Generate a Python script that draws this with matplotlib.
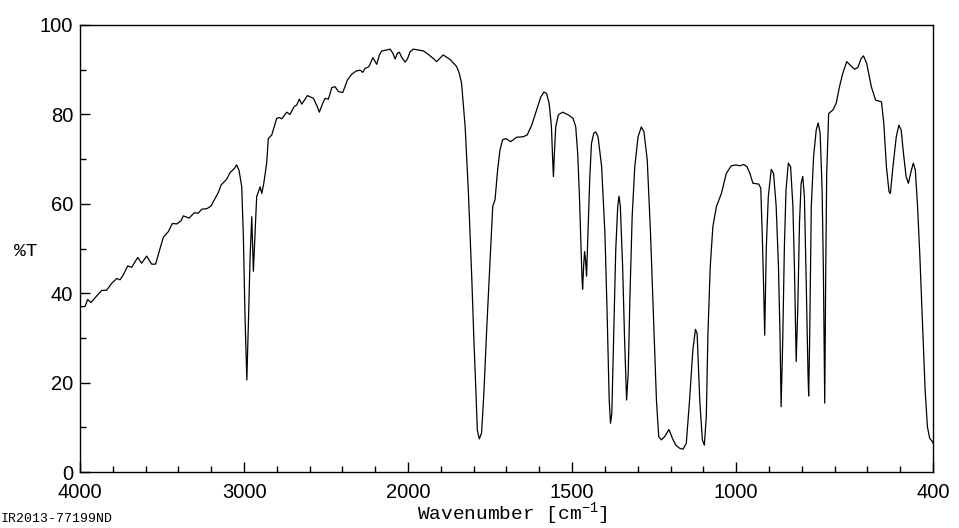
import numpy as np
import matplotlib
matplotlib.use("Agg")
import matplotlib.pyplot as plt

# wavenumber (cm-1) and transmittance (%T)
wavenumber = [
    4000, 3970, 3953, 3933, 3898, 3868, 3837, 3807, 3776, 3756, 3736, 3709, 3685,
    3648, 3624, 3594, 3563, 3539, 3512, 3492, 3461, 3437, 3410, 3384, 3370, 3335,
    3303, 3279, 3258, 3227, 3201, 3181, 3157, 3140, 3106, 3085, 3059, 3045, 3030,
    3014, 3004, 2994, 2983, 2974, 2963, 2953, 2943, 2933, 2923, 2902, 2892, 2880,
    2862, 2852, 2831, 2801, 2785, 2770, 2740, 2720, 2695, 2679, 2663, 2648, 2614,
    2577, 2553, 2541, 2520, 2506, 2486, 2465, 2445, 2425, 2398, 2370, 2343, 2317,
    2292, 2276, 2262, 2242, 2232, 2215, 2201, 2191, 2175, 2160, 2130, 2110, 2093,
    2079, 2065, 2053, 2038, 2018, 2004, 1994, 1984, 1969, 1953, 1938, 1923, 1913,
    1893, 1872, 1852, 1844, 1837, 1826, 1816, 1806, 1799, 1793, 1789, 1783, 1776,
    1769, 1760, 1750, 1742, 1735, 1727, 1720, 1712, 1702, 1687, 1669, 1649, 1637,
    1623, 1608, 1596, 1586, 1578, 1570, 1563, 1560, 1557, 1554, 1550, 1542, 1529,
    1512, 1497, 1489, 1483, 1478, 1474, 1470, 1468, 1465, 1462, 1459, 1456, 1451,
    1446, 1441, 1434, 1428, 1421, 1410, 1400, 1393, 1387, 1383, 1379, 1373, 1367,
    1361, 1357, 1353, 1346, 1340, 1334, 1329, 1324, 1317, 1309, 1299, 1289, 1281,
    1271, 1261, 1251, 1243, 1236, 1228, 1218, 1205, 1194, 1184, 1172, 1162, 1152,
    1142, 1132, 1124, 1119, 1111, 1103, 1097, 1091, 1086, 1079, 1071, 1060, 1045,
    1030, 1015, 1000, 989, 977, 967, 958, 949, 931, 925, 920, 916, 913, 908, 902,
    893, 886, 878, 871, 866, 863, 858, 853, 848, 841, 834, 827, 822, 817, 812,
    807, 802, 797, 792, 787, 781, 779, 776, 771, 764, 756, 750, 744, 738, 734,
    730, 727, 724, 718, 705, 695, 685, 675, 663, 652, 639, 629, 619, 612, 602,
    588, 575, 557, 550, 542, 534, 530, 522, 512, 504, 497, 490, 482, 475, 467,
    460, 454, 447, 440, 432, 424, 417, 410, 404, 400,
]
transmittance = [
    37.0, 37.0, 38.6, 37.9, 39.4, 40.6, 40.7, 42.2, 43.3, 43.0, 44.1, 46.1, 45.8,
    48.0, 46.7, 48.3, 46.5, 46.5, 50.0, 52.5, 53.8, 55.6, 55.5, 56.2, 57.3, 56.8,
    58.0, 57.9, 58.8, 58.9, 59.5, 60.9, 62.5, 64.2, 65.5, 67.0, 67.9, 68.7, 67.4,
    63.8, 52.6, 34.7, 20.6, 32.5, 48.2, 57.1, 44.9, 53.5, 61.6, 63.8, 62.3, 64.5,
    69.1, 74.6, 75.4, 79.1, 79.3, 79.0, 80.5, 80.0, 81.7, 82.1, 83.4, 82.3, 84.2,
    83.6, 81.7, 80.5, 82.5, 83.6, 83.4, 86.0, 86.2, 85.1, 84.9, 87.7, 89.0, 89.7,
    89.9, 89.4, 90.3, 90.6, 91.2, 92.7, 91.8, 91.2, 93.3, 94.2, 94.4, 94.6, 93.7,
    92.4, 93.7, 93.9, 92.7, 91.7, 92.4, 94.0, 94.6, 94.4, 94.2, 93.4, 92.5, 91.8,
    93.3, 92.3, 90.7, 89.2, 87.0, 77.2, 62.3, 43.7, 28.8, 17.6, 9.4, 7.4, 8.7,
    17.6, 32.5, 47.4, 59.4, 60.9, 67.6, 72.0, 74.3, 74.6, 73.9, 74.9, 75.0, 75.4,
    77.6, 81.0, 83.8, 85.0, 84.7, 82.5, 77.2, 71.3, 66.1, 71.3, 77.2, 79.9, 80.5,
    79.9, 79.1, 77.2, 71.3, 62.3, 52.6, 43.7, 40.9, 45.9, 49.3, 47.4, 43.8, 54.9,
    66.1, 73.5, 75.8, 76.1, 75.0, 68.3, 53.4, 34.7, 16.1, 10.9, 13.1, 31.0, 49.7,
    59.4, 61.7, 59.4, 45.9, 29.5, 16.1, 22.1, 38.5, 57.1, 68.3, 75.0, 77.2, 76.1,
    69.8, 53.4, 32.5, 16.1, 7.9, 7.2, 7.9, 9.5, 7.5, 6.0, 5.3, 5.1, 6.4,
    16.1, 27.3, 31.9, 31.0, 16.1, 7.2, 6.0, 12.4, 31.0, 45.9, 54.9, 59.4, 62.3,
    66.8, 68.5, 68.7, 68.5, 68.8, 68.3, 66.8, 64.6, 64.4, 63.5, 51.9, 40.7, 30.6, 50.4, 61.6,
    67.7, 66.8, 59.4, 45.9, 29.5, 14.6, 29.5, 50.4, 63.1, 69.1, 68.3, 59.4, 44.5, 24.7, 37.0,
    55.6, 64.6, 66.1, 61.6, 44.5, 22.1, 17.0, 29.5, 59.4, 70.5, 76.5, 78.1, 75.8, 63.1, 44.5,
    15.4, 44.5, 66.8, 80.2, 81.0, 82.5, 86.2, 89.2, 91.8, 91.0, 90.1, 90.5, 92.5, 93.1, 91.4,
    86.2, 83.2, 82.8, 78.0, 68.3, 62.7, 62.3, 68.3, 75.0, 77.6, 76.5, 71.3, 66.1, 64.6, 67.2,
    69.1, 67.6, 59.4, 48.2, 33.3, 18.3, 10.1, 7.5, 7.0, 6.5,
]

x_ticks = [4000, 3000, 2000, 1500, 1000, 400]
y_ticks = [0, 20, 40, 60, 80, 100]


# axis is compressed 2x above 2000 cm-1
def fwd(w):
    w = np.asarray(w, dtype=float)
    return np.where(w <= 2000, 2 * w, w + 2000)


def inv(u):
    u = np.asarray(u, dtype=float)
    return np.where(u <= 4000, u / 2, u - 2000)


plt.rcParams['mathtext.fontset'] = 'custom'
plt.rcParams['mathtext.rm'] = 'Liberation Mono'

fig = plt.figure(figsize=(9.59, 5.28), dpi=100)
ax = fig.add_axes([80 / 959, 56 / 528, 853 / 959, 447 / 528])
ax.set_xscale('function', functions=(fwd, inv))
ax.plot(wavenumber, transmittance, color='black', lw=0.9)
ax.set_xlim(4000, 400)
ax.set_ylim(0, 100)

minor_x = list(range(3800, 2000, -200)) + list(range(1900, 400, -100))
ax.set_xticks(x_ticks)
ax.set_xticks(minor_x, minor=True)
ax.set_yticks(y_ticks)
ax.set_yticks(range(10, 100, 20), minor=True)
ax.tick_params(which='both', direction='in', top=False, right=False,
               labelsize=14.5, colors='black')
ax.tick_params(axis='x', which='major', pad=8)
ax.tick_params(axis='y', which='major', pad=5)
ax.tick_params(which='major', length=7, width=1)
ax.tick_params(which='minor', length=4, width=1)
for lab in ax.get_xticklabels() + ax.get_yticklabels():
    lab.set_fontfamily('Liberation Sans')

for s in ax.spines.values():
    s.set_linewidth(1)
    s.set_color('black')

fig.text(26 / 959, 1 - 252 / 528, '%T', family='Liberation Mono', fontsize=14,
         ha='center', va='center')
fig.text(512 / 959, 1 - 514 / 528, r'Wavenumber [cm$^{\mathregular{-1}}$]',
         family='Liberation Mono', fontsize=14, ha='center', va='center')
fig.text(1 / 959, 1 - 519 / 528, 'IR2013-77199ND', family='Liberation Mono',
         fontsize=9.5, ha='left', va='center')

fig.savefig('out.png', dpi=100)
